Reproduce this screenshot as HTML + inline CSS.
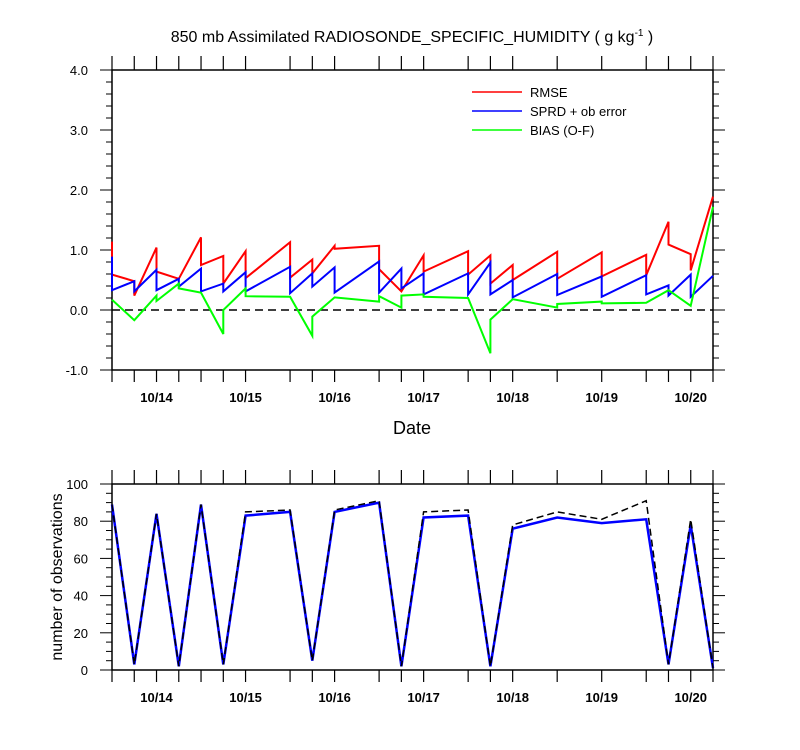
<!DOCTYPE html>
<html><head><meta charset="utf-8"><style>
body{margin:0;background:#fff}
svg{display:block;font-family:"Liberation Sans",sans-serif}
</style></head><body>
<svg id="c" width="800" height="750" xmlns="http://www.w3.org/2000/svg">
<rect width="800" height="750" fill="#fff"/>
<text x="412" y="42" font-size="16" text-anchor="middle">850 mb Assimilated RADIOSONDE_SPECIFIC_HUMIDITY ( g kg<tspan dy="-6" font-size="10">-1</tspan><tspan dy="6"> )</tspan></text>
<text x="412" y="434" font-size="18" text-anchor="middle">Date</text>
<text transform="translate(62,577) rotate(-90)" font-size="16" text-anchor="middle">number of observations</text>
<g>
<line x1="472" y1="92" x2="522" y2="92" stroke="#f00" stroke-width="1.5"/>
<text x="530" y="97" font-size="13">RMSE</text>
<line x1="472" y1="111" x2="522" y2="111" stroke="#00f" stroke-width="1.5"/>
<text x="530" y="116" font-size="13">SPRD + ob error</text>
<line x1="472" y1="130" x2="522" y2="130" stroke="#0f0" stroke-width="1.5"/>
<text x="530" y="135" font-size="13">BIAS (O-F)</text>
</g>
</svg>
<script>
// time index in 6-hour steps from 10/13 12Z
const obsIdx=[0,1,2,3,4,5,6,8,9,10,12,13,14,16,17,18,20,22,24,25,26,27];
const dayLabels=["10/14","10/15","10/16","10/17","10/18","10/19","10/20"];
const dayIdx=[2,6,10,14,18,22,26];
// sawtooth series: [time index, value] pairs (duplicate times = jumps)
const rmseT=[0,0,1,1,2,2,3,4,4,5,5,6,6,8,8,9,9,10,10,12,12,13,14,14,16,16,17,17,18,18,20,20,22,22,24,24,25,25,26,26,27];
const rmseV=[1.14,0.59,0.48,0.24,1.04,0.64,0.52,1.21,0.75,0.9,0.44,0.98,0.53,1.13,0.54,0.84,0.61,1.07,1.02,1.07,0.68,0.31,0.91,0.64,0.98,0.59,0.91,0.44,0.75,0.5,0.97,0.52,0.96,0.56,0.92,0.58,1.47,1.09,0.93,0.66,1.89];
const sprdT=[0,0,1,1,2,2,3,3,4,4,5,5,6,6,8,8,9,9,10,10,12,12,13,13,14,14,16,16,17,17,18,18,20,20,22,22,24,24,25,25,26,26,27];
const sprdV=[0.89,0.33,0.48,0.31,0.67,0.33,0.52,0.39,0.69,0.31,0.44,0.31,0.63,0.31,0.72,0.28,0.61,0.39,0.71,0.29,0.81,0.29,0.69,0.36,0.61,0.26,0.61,0.26,0.79,0.26,0.5,0.21,0.6,0.25,0.56,0.22,0.58,0.26,0.41,0.24,0.59,0.22,0.57];
const biasT=[0,1,2,2,3,3,4,5,5,6,6,8,9,9,10,12,12,13,13,14,14,16,17,17,18,20,20,22,22,24,25,26,27];
const biasV=[0.17,-0.17,0.24,0.15,0.44,0.36,0.29,-0.40,0.0,0.36,0.23,0.22,-0.43,-0.11,0.21,0.14,0.23,0.04,0.24,0.26,0.22,0.2,-0.72,-0.16,0.18,0.04,0.1,0.14,0.11,0.12,0.33,0.07,1.72];
const obsUsed=[89,3,84,2,89,3,83,85,5,85,90,2,82,83,2,76,82,79,81,3,78,1];
const obsTotal=[89,3,84,2,89,3,85,86,5,86,91,2,85,86,2,78,85,81,91,3,81,1];
const topYTicks=["-1.0","0.0","1.0","2.0","3.0","4.0"];
const botYTicks=["0","20","40","60","80","100"];

const svg=document.getElementById('c');
const NS='http://www.w3.org/2000/svg';
const X0=112,X1=713;
const xs=i=>X0+(X1-X0)*i/27;
const yTop=v=>310-60*v;
const yBot=v=>670-1.86*v;
function el(tag,attrs,parent){const e=document.createElementNS(NS,tag);for(const k in attrs)e.setAttribute(k,attrs[k]);(parent||svg).appendChild(e);return e;}
function frame(y0,y1,name){
  const r=el('rect',{x:X0,y:y0,width:X1-X0,height:y1-y0,fill:'none',stroke:'#000','stroke-width':1.5});
  
  
  obsIdx.forEach(i=>{
    const t=el('line',{x1:xs(i),x2:xs(i),y1:y0,y2:y0-14,stroke:'#000','stroke-width':1.2});
    
    
    const b=el('line',{x1:xs(i),x2:xs(i),y1:y1,y2:y1+12,stroke:'#000','stroke-width':1.2});
    
    
  });
  dayIdx.forEach((d,k)=>{
    const t=el('text',{x:xs(d),y:y1+32,'font-size':13,'text-anchor':'middle','font-weight':'bold'});
    t.textContent=dayLabels[k];
    
    
  });
}
function yTicks(vals,minStep,majStep,lo,hi,fy,fmt){
  for(let v=lo;v<=hi+1e-9;v+=minStep){
    const maj=Math.abs(v/majStep-Math.round(v/majStep))<1e-6;
    const len=maj?12:6;
    [[X0,X0-len],[X1,X1+len]].forEach(p=>{
      const l=el('line',{x1:p[0],x2:p[1],y1:fy(v),y2:fy(v),stroke:'#000','stroke-width':1});
      
      
    });
  }
  vals.forEach(s=>{
    const t=el('text',{x:X0-24,y:fy(parseFloat(s))+5,'font-size':13,'text-anchor':'end'});
    t.textContent=s;
    
    
  });
}
frame(70,370,'top-plot-frame');
frame(484,670,'bottom-plot-frame');
yTicks(topYTicks,0.2,1,-1,4,yTop);
yTicks(botYTicks,5,20,0,100,yBot);
const z=el('line',{x1:X0,x2:X1,y1:yTop(0),y2:yTop(0),stroke:'#000','stroke-width':1.5,'stroke-dasharray':'8,5'});


function line(ts,vs,fy,color,name,dash,w){
  const d=ts.map((t,i)=>(i?'L':'M')+xs(t).toFixed(1)+','+fy(vs[i]).toFixed(1)).join('');
  const p=el('path',{d:d,fill:'none',stroke:color,'stroke-width':w||2,'stroke-linejoin':'miter'});
  if(dash)p.setAttribute('stroke-dasharray',dash);
  
  
}
line(rmseT,rmseV,yTop,'#f00','rmse-line');
line(sprdT,sprdV,yTop,'#00f','sprd-line');
line(biasT,biasV,yTop,'#0f0','bias-line');
line(obsIdx,obsUsed,yBot,'#00f','obs-used-line',null,2.5);
line(obsIdx,obsTotal,yBot,'#000','obs-total-line','7,4',1.5);
</script>
</body></html>
